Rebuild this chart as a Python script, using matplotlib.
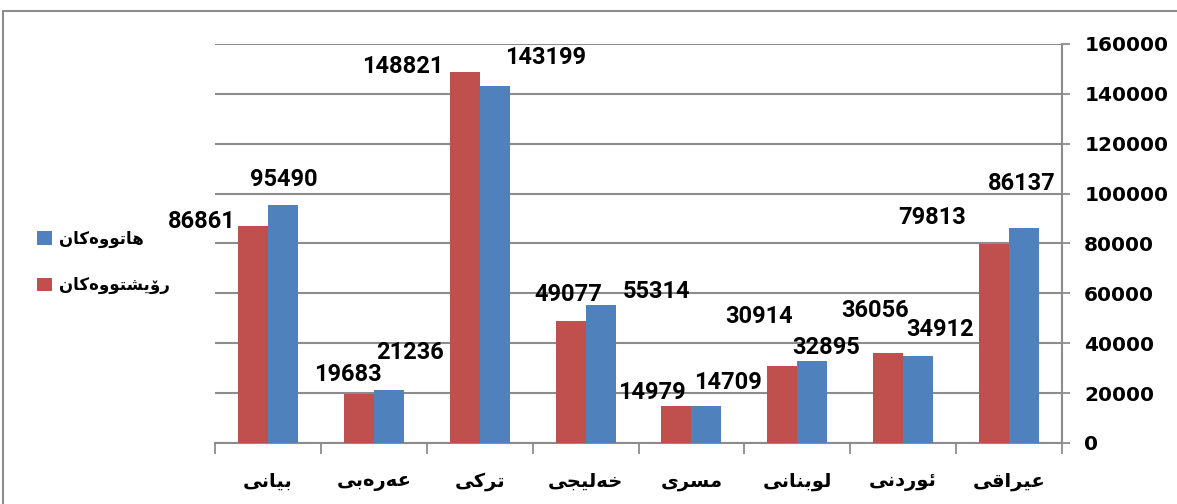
import matplotlib
matplotlib.use('Agg')
import matplotlib.pyplot as plt
from matplotlib.patches import Rectangle, Patch
import numpy as np

# Dados
categories = ['بیانی', 'عەرەبی', 'تركی', 'خەلیجی', 'مسری', 'لوبنانی', 'ئوردنی', 'عیراقی']
departed = [86861, 19683, 148821, 49077, 14979, 30914, 36056, 79813]   # رۆیشتووەكان
arrived = [95490, 21236, 143199, 55314, 14709, 32895, 34912, 86137]    # هاتووەكان
label_departed = 'رۆیشتووەكان'
label_arrived = 'هاتووەكان'

# Posição dos rótulos de valor (deslocamento em pixels a partir do topo da barra)
off_departed = [(-51, 5), (-11, 19), (-62, 5), (-2, 26), (-25, 13), (-23, 49), (-13, 43), (-62, 26)]
off_arrived = [(1, 25), (21, 38), (51, 28), (56, 14), (22, 24), (14, 13), (22, 26), (-2, 45)]

RED = '#C0504D'
BLUE = '#4F81BD'
GRID = '#8C8C8C'

# Formas de apresentação árabes (isolada, final, inicial, medial)
FORMS = {
    'ا': ('\uFE8D', '\uFE8E', None, None),
    'ب': ('\uFE8F', '\uFE90', '\uFE91', '\uFE92'),
    'ت': ('\uFE95', '\uFE96', '\uFE97', '\uFE98'),
    'ج': ('\uFE9D', '\uFE9E', '\uFE9F', '\uFEA0'),
    'خ': ('\uFEA5', '\uFEA6', '\uFEA7', '\uFEA8'),
    'د': ('\uFEA9', '\uFEAA', None, None),
    'ر': ('\uFEAD', '\uFEAE', None, None),
    'س': ('\uFEB1', '\uFEB2', '\uFEB3', '\uFEB4'),
    'ش': ('\uFEB5', '\uFEB6', '\uFEB7', '\uFEB8'),
    'ع': ('\uFEC9', '\uFECA', '\uFECB', '\uFECC'),
    'ق': ('\uFED5', '\uFED6', '\uFED7', '\uFED8'),
    'ك': ('\uFED9', '\uFEDA', '\uFEDB', '\uFEDC'),
    'ل': ('\uFEDD', '\uFEDE', '\uFEDF', '\uFEE0'),
    'م': ('\uFEE1', '\uFEE2', '\uFEE3', '\uFEE4'),
    'ن': ('\uFEE5', '\uFEE6', '\uFEE7', '\uFEE8'),
    'ه': ('\uFEE9', '\uFEEA', '\uFEEB', '\uFEEC'),
    'و': ('\uFEED', '\uFEEE', None, None),
    'ئ': ('\uFE89', '\uFE8A', '\uFE8B', '\uFE8C'),
    'ی': ('\uFEEF', '\uFEF0', '\uFEF3', '\uFEF4'),
    'ە': ('\uFEE9', '\uFEEA', None, None),
    'ۆ': ('ۆ', 'ۆ', None, None),
}


def shape(text):
    """Liga as letras e inverte a ordem para exibição da direita para a esquerda."""
    out = []
    n = len(text)
    for i, ch in enumerate(text):
        f = FORMS.get(ch)
        if f is None:
            out.append(ch)
            continue
        prev = FORMS.get(text[i - 1]) if i > 0 else None
        nxt = FORMS.get(text[i + 1]) if i < n - 1 else None
        jp = prev is not None and prev[2] is not None
        jn = f[2] is not None and nxt is not None
        if jp and jn:
            out.append(f[3])
        elif jp:
            out.append(f[1])
        elif jn:
            out.append(f[2])
        else:
            out.append(f[0])
    return ''.join(out[::-1])


NUM_FONT = ['Roboto', 'DejaVu Sans']
TICK_FONT = ['DejaVu Sans']
AR_FONT = ['DejaVu Sans']

fig = plt.figure(figsize=(11.77, 5.04), dpi=100)
ax = fig.add_axes([215 / 1177, 61 / 504, 847 / 1177, 399 / 504])

x = np.arange(len(categories))
width = 0.283
bars_d = ax.bar(x - width / 2, departed, width, color=RED, zorder=3)
bars_a = ax.bar(x + width / 2, arrived, width, color=BLUE, zorder=3)

ax.set_xlim(-0.5, len(categories) - 0.5)
ax.set_ylim(0, 160000)

# Eixo y à direita
ax.yaxis.tick_right()
ax.set_yticks(np.arange(0, 160001, 20000))
ax.tick_params(axis='y', which='major', length=6, width=1.3, color=GRID, pad=10,
               labelsize=14.5)
for lab in ax.get_yticklabels():
    lab.set_fontfamily(TICK_FONT)
    lab.set_fontweight('bold')
ax.grid(axis='y', color=GRID, linewidth=1.5, zorder=0)

# Eixo x: marcas nas fronteiras, rótulos no centro
ax.set_xticks(x)
ax.set_xticklabels([shape(c) for c in categories], fontfamily=AR_FONT,
                   fontweight='bold', fontsize=14)
ax.set_xticks(np.arange(-0.5, len(categories)), minor=True)
ax.tick_params(axis='x', which='major', length=0, pad=21)
ax.tick_params(axis='x', which='minor', length=8, width=1.3, color=GRID)

for side in ['top', 'left']:
    ax.spines[side].set_visible(False)
for side in ['bottom', 'right']:
    ax.spines[side].set_color(GRID)
    ax.spines[side].set_linewidth(1.5)


def autolabel(rects, offsets):
    for rect, (dx, dy) in zip(rects, offsets):
        h = rect.get_height()
        ax.annotate('{}'.format(h),
                    xy=(rect.get_x() + rect.get_width() / 2, h),
                    xytext=(dx, dy), textcoords='offset pixels',
                    ha='center', va='center', fontsize=17, fontweight='bold',
                    fontfamily=NUM_FONT, zorder=4)


autolabel(bars_d, off_departed)
autolabel(bars_a, off_arrived)

# Legenda
handles = [Patch(facecolor=BLUE, label=shape(label_arrived)),
           Patch(facecolor=RED, label=shape(label_departed))]
leg = fig.legend(handles=handles, loc='center left', bbox_to_anchor=(22 / 1177, 242 / 504),
                 frameon=False, handlelength=0.9, handleheight=0.9, handletextpad=0.4,
                 labelspacing=1.7, prop={'family': AR_FONT, 'weight': 'bold', 'size': 12})

# Moldura do gráfico
fig.patches.append(Rectangle((3 / 1177, -0.1), 1.2, (504 - 11) / 504 + 0.1,
                             transform=fig.transFigure, fill=False,
                             edgecolor=GRID, linewidth=1.5))

fig.savefig('out.png', dpi=100)
